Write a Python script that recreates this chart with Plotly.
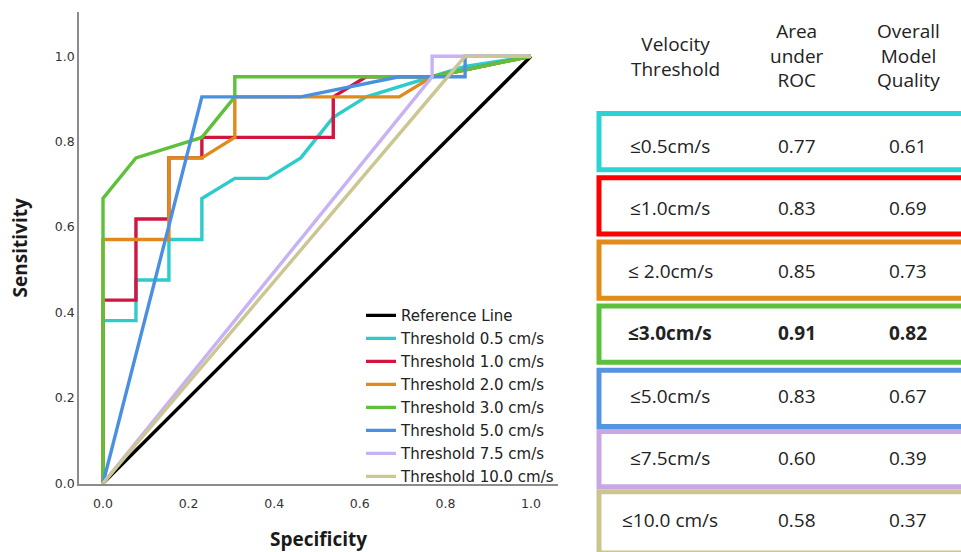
import plotly.graph_objects as go

W, H = 961, 552

# ---------------- data ----------------
series_names = ["Reference Line", "Threshold 0.5 cm/s", "Threshold 1.0 cm/s", "Threshold 2.0 cm/s",
                "Threshold 3.0 cm/s", "Threshold 5.0 cm/s", "Threshold 7.5 cm/s", "Threshold 10.0 cm/s"]
line_colors = ["#000000", "#2ecbcb", "#d3143f", "#e08a1c", "#5ec13c", "#4a90e2", "#c8b2f6", "#ccc690"]

ref_x = [0.0, 1.0]
ref_y = [0.0, 1.0]

t05_x = [0.0, 0.0, 0.077, 0.077, 0.154, 0.154, 0.231, 0.231, 0.308, 0.385, 0.462, 0.538, 0.615, 0.692, 0.769, 0.846, 1.0]
t05_y = [0.0, 0.381, 0.381, 0.476, 0.476, 0.571, 0.571, 0.667, 0.714, 0.714, 0.762, 0.857, 0.905, 0.929, 0.952, 0.976, 1.0]

t10_x = [0.0, 0.0, 0.077, 0.077, 0.154, 0.154, 0.231, 0.231, 0.538, 0.538, 0.615, 0.769, 1.0]
t10_y = [0.0, 0.429, 0.429, 0.619, 0.619, 0.762, 0.762, 0.810, 0.810, 0.905, 0.952, 0.952, 1.0]

t20_x = [0.0, 0.0, 0.154, 0.154, 0.231, 0.308, 0.308, 0.692, 0.769, 1.0]
t20_y = [0.0, 0.571, 0.571, 0.762, 0.762, 0.810, 0.905, 0.905, 0.952, 1.0]

t30_x = [0.0, 0.0, 0.077, 0.231, 0.308, 0.308, 0.769, 1.0]
t30_y = [0.0, 0.667, 0.762, 0.810, 0.905, 0.952, 0.952, 1.0]

t50_x = [0.0, 0.231, 0.462, 0.692, 0.846, 0.846, 1.0]
t50_y = [0.0, 0.905, 0.905, 0.952, 0.952, 1.0, 1.0]

t75_x = [0.0, 0.769, 0.769, 1.0]
t75_y = [0.0, 0.952, 1.0, 1.0]

t100_x = [0.0, 0.846, 1.0]
t100_y = [0.0, 1.0, 1.0]

series_x = [ref_x, t05_x, t10_x, t20_x, t30_x, t50_x, t75_x, t100_x]
series_y = [ref_y, t05_y, t10_y, t20_y, t30_y, t50_y, t75_y, t100_y]

tick_vals = [0.0, 0.2, 0.4, 0.6, 0.8, 1.0]
tick_text = ["0.0", "0.2", "0.4", "0.6", "0.8", "1.0"]

# table
table_header = ["Velocity<br>Threshold", "Area<br>under<br>ROC", "Overall<br>Model<br>Quality"]
table_thresholds = ["≤0.5cm/s", "≤1.0cm/s", "≤ 2.0cm/s", "≤3.0cm/s", "≤5.0cm/s", "≤7.5cm/s", "≤10.0 cm/s"]
table_auc = ["0.77", "0.83", "0.85", "0.91", "0.83", "0.60", "0.58"]
table_quality = ["0.61", "0.69", "0.73", "0.82", "0.67", "0.39", "0.37"]
table_bold = [False, False, False, True, False, False, False]
box_colors = ["#2ad4d4", "#ff0000", "#e08b1a", "#5cc03c", "#5593e3", "#c9a7e3", "#cbc68e"]

# ---------------- figure ----------------
fig = go.Figure()
for i in range(len(series_names)):
    fig.add_trace(go.Scatter(
        x=series_x[i], y=series_y[i], mode="lines", name=series_names[i],
        line=dict(color=line_colors[i], width=3.4), legendgroup=str(i),
    ))

def px_x(p):
    return p / W

def px_y(p):
    return 1 - p / H

# axis ranges from pixel calibration: x 0 -> 103px, 1 -> 531px ; y 0 -> 489.5px, 1 -> 57px
x_left_px, x_right_px = 79, 558
y_top_px, y_bot_px = 12, 490
xr = [(x_left_px - 103) / 428, (x_right_px - 103) / 428]
yr = [(489.5 - y_bot_px) / 432.5, (489.5 - y_top_px) / 432.5]

fig.update_layout(
    width=W, height=H,
    margin=dict(l=0, r=0, t=0, b=0),
    paper_bgcolor="white", plot_bgcolor="white",
    font=dict(family="Open Sans", color="#222222"),
    xaxis=dict(domain=[px_x(x_left_px), px_x(x_right_px)], range=xr,
               tickvals=tick_vals, ticktext=tick_text, showgrid=False, zeroline=False,
               showline=True, linecolor="#8c8c8c", linewidth=1.5, ticks="",
               ticklabelstandoff=7,
               tickfont=dict(family="DejaVu Sans", size=12.5, color="#333333"),
               title=dict(text="<b>Specificity</b>", font=dict(size=19, color="#1a1a1a"), standoff=26)),
    yaxis=dict(domain=[px_y(y_bot_px), px_y(y_top_px)], range=yr,
               tickvals=tick_vals, ticktext=tick_text, showgrid=False, zeroline=False,
               showline=True, linecolor="#8c8c8c", linewidth=1.5, ticks="",
               tickfont=dict(family="DejaVu Sans", size=12.5, color="#333333"),
               title=dict(text="<b>Sensitivity</b>", font=dict(size=19, color="#1a1a1a"), standoff=22)),
    legend=dict(x=px_x(361), y=px_y(303), xanchor="left", yanchor="top",
                bgcolor="rgba(0,0,0,0)", font=dict(family="DejaVu Sans", size=15, color="#222222"),
                tracegroupgap=0.5, itemwidth=30),
    showlegend=True,
)

# table header
header_x = [675, 797, 908]
header_y = [57, 56, 56]
for j, txt in enumerate(table_header):
    fig.add_annotation(x=px_x(header_x[j]), y=px_y(header_y[j]), xref="paper", yref="paper",
                       text=txt, showarrow=False, font=dict(size=19, color="#222222"),
                       xanchor="center", yanchor="middle", align="center")

box_tops = [115, 180, 245, 310, 375, 437, 498]
box_bots = [172, 237, 302, 367, 432, 493, 560]
row_cy = [148, 211, 274, 337, 401, 464, 527]
for i in range(len(table_thresholds)):
    fig.add_shape(type="rect", xref="paper", yref="paper",
                  x0=px_x(599), x1=px_x(975), y0=px_y(box_bots[i]), y1=px_y(box_tops[i]),
                  line=dict(color=box_colors[i], width=5), fillcolor="white", layer="above")
    vals = [table_thresholds[i], table_auc[i], table_quality[i]]
    for j, v in enumerate(vals):
        t = f"<b>{v}</b>" if table_bold[i] else v
        fig.add_annotation(x=px_x(header_x[j] - (5 if j == 0 else 0)), y=px_y(row_cy[i]), xref="paper", yref="paper",
                           text=t, showarrow=False, font=dict(size=19, color="#222222"),
                           xanchor="center", yanchor="middle")

fig.write_html("out.html")
